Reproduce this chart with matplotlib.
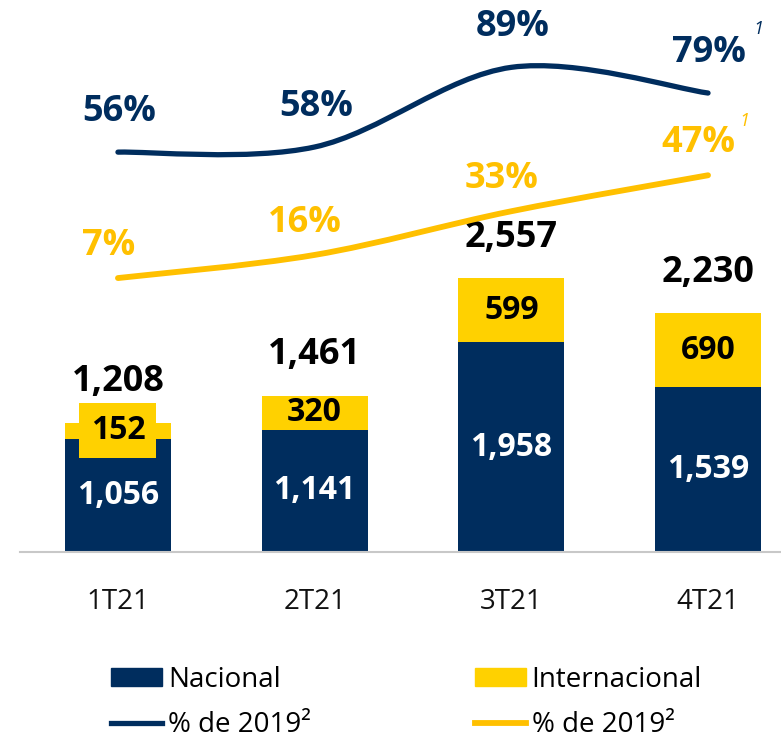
import numpy as np
import matplotlib.pyplot as plt
from matplotlib.path import Path
from matplotlib.patches import PathPatch, Patch
from matplotlib.lines import Line2D

plt.rcParams['font.family'] = ['Open Sans', 'DejaVu Sans']

quarters = ['1T21', '2T21', '3T21', '4T21']
nacional = [1056, 1141, 1958, 1539]
internacional = [152, 320, 599, 690]
totals = [1208, 1461, 2557, 2230]
pct_nacional = [56, 58, 89, 79]
pct_internacional = [7, 16, 33, 47]

NAVY = '#002D5E'
YELLOW = '#FFD100'
LINE_YELLOW = '#FFC000'


def smooth_path(xs, ys):
    # excel style smoothed line: catmull-rom as cubic bezier segments
    pts = np.column_stack([xs, ys]).astype(float)
    ext = np.vstack([pts[0], pts, pts[-1]])
    verts = [pts[0]]
    codes = [Path.MOVETO]
    for i in range(len(pts) - 1):
        p0, p1, p2, p3 = ext[i], ext[i + 1], ext[i + 2], ext[i + 3]
        verts += [p1 + (p2 - p0) / 6, p2 - (p3 - p1) / 6, p2]
        codes += [Path.CURVE4] * 3
    return Path(verts, codes)


fig = plt.figure(figsize=(7.81, 7.42), dpi=100)
ax = fig.add_axes([20 / 781, 1 - 552 / 742, 761 / 781, 552 / 742])
x = np.arange(len(quarters))

ax.bar(x, nacional, width=0.54, color=NAVY)
ax.bar(x, internacional, width=0.54, bottom=nacional, color=YELLOW)

for i in range(len(quarters)):
    ax.text(x[i], nacional[i] / 2, f'{nacional[i]:,}', ha='center', va='center',
            color='white', fontsize=23, fontweight='bold')
    box = None
    if internacional[i] < 200:
        box = dict(facecolor=YELLOW, edgecolor='none', pad=8)
    ax.text(x[i], nacional[i] + internacional[i] / 2, f'{internacional[i]:,}',
            ha='center', va='center', color='black', fontsize=23,
            fontweight='bold', bbox=box)
    ax.annotate(f'{totals[i]:,}', (x[i], totals[i]), xytext=(0, 29),
                textcoords='offset points', ha='center', va='center',
                fontsize=26, fontweight='bold', color='black')

ax.set_xlim(-0.498, 3.371)
ax.set_ylim(0, 5154)
ax.set_xticks(x)
ax.set_xticklabels(quarters, fontsize=20, color='#111111')
ax.tick_params(axis='x', length=0, pad=26)
ax.set_yticks([])
for side in ['top', 'right', 'left']:
    ax.spines[side].set_visible(False)
ax.spines['bottom'].set_color('#C8C8C8')
ax.spines['bottom'].set_linewidth(1.5)

ax2 = ax.twinx()
ax2.set_ylim(-99.6, 115.2)
ax2.set_yticks([])
for side in ax2.spines:
    ax2.spines[side].set_visible(False)

ax2.add_patch(PathPatch(smooth_path(x, pct_nacional), fill=False, edgecolor=NAVY,
                        linewidth=3.8, capstyle='round'))
ax2.add_patch(PathPatch(smooth_path(x, pct_internacional), fill=False,
                        edgecolor=LINE_YELLOW, linewidth=4.2, capstyle='round'))

for i in range(len(quarters)):
    ax2.annotate(f'{pct_nacional[i]}%', (x[i], pct_nacional[i]), xytext=(1, 29),
                 textcoords='offset points', ha='center', va='center',
                 fontsize=26, fontweight='bold', color=NAVY)
    ax2.annotate(f'{pct_internacional[i]}%', (x[i], pct_internacional[i]),
                 xytext=(-7, 23), textcoords='offset points', ha='center',
                 va='center', fontsize=26, fontweight='bold', color=LINE_YELLOW)

# footnote marks on the last quarter
ax2.annotate('1', (x[-1], pct_nacional[-1]), xytext=(36, 46), textcoords='offset points',
             ha='center', va='center', fontsize=13, fontstyle='italic', color=NAVY)
ax2.annotate('1', (x[-1], pct_internacional[-1]), xytext=(26, 39),
             textcoords='offset points', ha='center', va='center', fontsize=13,
             fontstyle='italic', color=LINE_YELLOW)

handles = [Patch(color=NAVY), Line2D([], [], color=NAVY, linewidth=3.8),
           Patch(color=YELLOW), Line2D([], [], color=LINE_YELLOW, linewidth=4.2)]
labels = ['Nacional', '% de 2019²', 'Internacional', '% de 2019²']
fig.legend(handles, labels, loc='upper left', bbox_to_anchor=(111 / 781, 1 - 666 / 742),
           ncol=2, frameon=False, fontsize=20, handlelength=1.85, handleheight=0.62,
           handletextpad=0.2, columnspacing=5.9, labelspacing=0.62, borderpad=0,
           borderaxespad=0)

fig.savefig('out.png', dpi=100)
